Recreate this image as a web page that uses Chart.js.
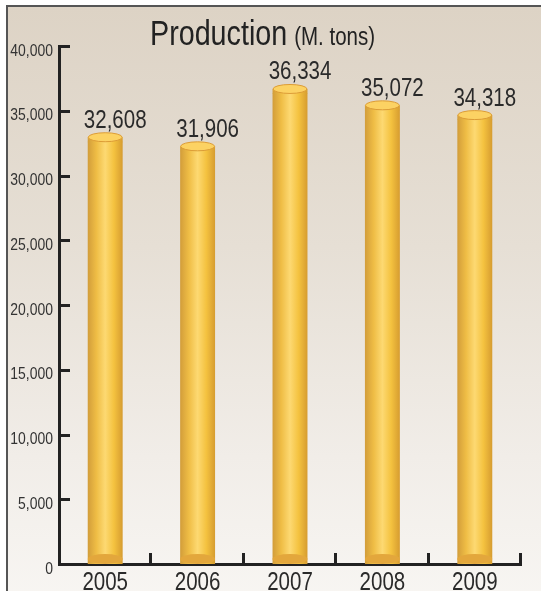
<!DOCTYPE html>
<html>
<head>
<meta charset="utf-8">
<script src="https://cdn.jsdelivr.net/npm/chart.js@4.4.1/dist/chart.umd.min.js"></script>
<style>
  html, body { margin: 0; padding: 0; }
  body { width: 541px; height: 591px; overflow: hidden; position: relative; background: #fff; }
  #frame {
    position: absolute; left: 6px; top: 5px; width: 540px; height: 600px;
    border-left: 2px solid #555; border-top: 2px solid #555;
    background: linear-gradient(to bottom, #ddd3c5 0%, #e6dfd5 40%, #f1ede8 75%, #f8f6f3 100%);
  }
  #wrap { position: absolute; left: 0; top: 0; width: 541px; height: 591px; }
</style>
</head>
<body>
<div id="frame"></div>
<div id="wrap"><canvas id="prodChart" width="541" height="591"></canvas></div>
<script>
// datos del gráfico
const years = ['2005', '2006', '2007', '2008', '2009'];
const production = [32608, 31906, 36334, 35072, 34318];
const yMax = 40000;
const yStep = 5000;

const FONT = '"Liberation Sans", Arial, sans-serif';
const NARROW = 0.82; // no hay fuente estrecha instalada: se comprime el texto
const BAR_PCT = 0.378;
const CAP = 4.5; // radio vertical de la tapa del cilindro

// gradiente horizontal para el efecto de cilindro
function barGradient(ctx, x, w) {
    const g = ctx.createLinearGradient(x - w / 2, 0, x + w / 2, 0);
    g.addColorStop(0, '#d29d3a');
    g.addColorStop(0.25, '#efbd45');
    g.addColorStop(0.5, '#fdd972');
    g.addColorStop(0.75, '#f4c23f');
    g.addColorStop(1, '#d69c30');
    return g;
}

function barWidth(chart) {
    const xs = chart.scales.x;
    return (xs.right - xs.left) / years.length * BAR_PCT;
}

// texto estrecho usando maxWidth de fillText
function narrowText(ctx, text, x, y) {
    const w = ctx.measureText(text).width * NARROW;
    ctx.fillText(text, x, y, w);
    return w;
}

// titulo con dos tamaños de letra
const titlePlugin = {
    id: 'titleText',
    afterDraw(chart) {
        const ctx = chart.ctx;
        ctx.save();
        ctx.fillStyle = '#222';
        ctx.textBaseline = 'alphabetic';
        ctx.textAlign = 'left';
        ctx.font = '35px ' + FONT;
        const w = narrowText(ctx, 'Production', 150, 45);
        ctx.font = '25px ' + FONT;
        narrowText(ctx, '(M. tons)', 150 + w + 7, 45);
        ctx.restore();
    }
};

// etiquetas de los ejes
const axisLabelPlugin = {
    id: 'axisLabels',
    afterDraw(chart) {
        const ctx = chart.ctx;
        const ys = chart.scales.y;
        const xs = chart.scales.x;
        ctx.save();
        ctx.fillStyle = '#333';
        ctx.font = '17px ' + FONT;
        ctx.textAlign = 'right';
        ctx.textBaseline = 'middle';
        ys.ticks.forEach((t, i) => {
            narrowText(ctx, Number(t.value).toLocaleString('en-US'), ys.right - 6, ys.getPixelForTick(i) + 5);
        });
        ctx.fillStyle = '#2a2a2a';
        ctx.font = '25px ' + FONT;
        ctx.textAlign = 'center';
        ctx.textBaseline = 'alphabetic';
        xs.ticks.forEach((t, i) => {
            narrowText(ctx, years[i], xs.getPixelForTick(i), xs.top + 26);
        });
        ctx.restore();
    }
};

// tapas, bases y etiquetas de valor
const cylinderPlugin = {
    id: 'cylinders',
    afterDatasetsDraw(chart) {
        const ctx = chart.ctx;
        const meta = chart.getDatasetMeta(0);
        ctx.save();
        meta.data.forEach((bar, i) => {
            const { x, y, base, width } = bar.getProps(['x', 'y', 'base', 'width'], true);
            const rx = width / 2;
            // relleno hasta el centro de la tapa
            ctx.fillStyle = barGradient(ctx, x, width);
            ctx.fillRect(x - rx, y - CAP, width, CAP + 0.5);
            // base
            ctx.beginPath();
            ctx.ellipse(x, base - 5, rx, 5, 0, 0, Math.PI * 2);
            ctx.fillStyle = '#e3a73c';
            ctx.fill();
            // tapa
            ctx.beginPath();
            ctx.ellipse(x, y - CAP, rx - 0.5, CAP, 0, 0, Math.PI * 2);
            ctx.fillStyle = '#fcd263';
            ctx.fill();
            ctx.lineWidth = 1;
            ctx.strokeStyle = '#dc9c36';
            ctx.stroke();
            // etiqueta
            ctx.fillStyle = '#2a2a2a';
            ctx.font = '25px ' + FONT;
            ctx.textAlign = 'center';
            ctx.textBaseline = 'alphabetic';
            narrowText(ctx, production[i].toLocaleString('en-US'), x + 10, y - 2 * CAP - 5);
        });
        ctx.restore();
    },
    afterDraw(chart) {
        // marcas de los ejes hacia dentro
        const ctx = chart.ctx;
        const ys = chart.scales.y;
        const xs = chart.scales.x;
        const left = chart.chartArea.left;
        const bottom = chart.chartArea.bottom;
        ctx.save();
        ctx.strokeStyle = '#222';
        ctx.lineWidth = 3;
        ctx.beginPath();
        ys.ticks.forEach((t, i) => {
            if (t.value === 0) return;
            const py = Math.round(ys.getPixelForTick(i)) + 0.5;
            ctx.moveTo(left, py);
            ctx.lineTo(left + 11, py);
        });
        const step = (xs.right - xs.left) / years.length;
        for (let i = 1; i <= years.length; i++) {
            const px = Math.round(xs.left + i * step) - 0.5;
            ctx.moveTo(px, bottom);
            ctx.lineTo(px, bottom - 11);
        }
        ctx.stroke();
        ctx.restore();
    }
};

new Chart(document.getElementById('prodChart'), {
    type: 'bar',
    data: {
        labels: years,
        datasets: [{
            label: 'Production',
            data: production,
            barPercentage: BAR_PCT,
            categoryPercentage: 1,
            borderWidth: 0,
            backgroundColor: (c) => {
                const chart = c.chart;
                if (!chart.chartArea) return '#f0c050';
                const x = chart.scales.x.getPixelForValue(c.dataIndex);
                return barGradient(chart.ctx, x, barWidth(chart));
            }
        }]
    },
    options: {
        responsive: false,
        animation: false,
        devicePixelRatio: 1,
        layout: { padding: { top: 46, right: 20, bottom: 0, left: 0 } },
        plugins: {
            legend: { display: false },
            title: { display: false },
            tooltip: { enabled: false }
        },
        scales: {
            x: {
                grid: { display: false, drawTicks: false },
                border: { display: true, color: '#222', width: 3 },
                ticks: { display: false },
                afterFit(scale) { scale.height = 27; }
            },
            y: {
                min: 0,
                max: yMax,
                grid: { display: false, drawTicks: false },
                border: { display: true, color: '#222', width: 3 },
                ticks: { display: false, stepSize: yStep },
                afterFit(scale) { scale.width = 59; }
            }
        }
    },
    plugins: [titlePlugin, cylinderPlugin, axisLabelPlugin]
});
</script>
</body>
</html>
